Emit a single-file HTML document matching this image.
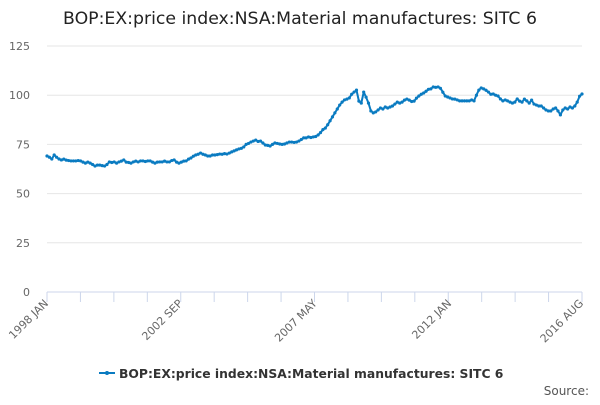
<!DOCTYPE html>
<html><head><meta charset="utf-8"><style>
body{margin:0;background:#fff;font-family:"Liberation Sans","DejaVu Sans",sans-serif;}
svg text{font-family:"DejaVu Sans","Liberation Sans",sans-serif;}
</style></head><body>
<svg id="chart" width="600" height="400" viewBox="0 0 600 400">
<text x="300" y="24" text-anchor="middle" font-size="17.3" fill="#222">BOP:EX:price index:NSA:Material manufactures: SITC 6</text>
<g id="grid"></g><g id="xaxis"></g><g id="series"></g>
<g>
<line x1="99" y1="373" x2="115" y2="373" stroke="#0a7bc1" stroke-width="2"/>
<circle cx="107" cy="373" r="2" fill="#0a7bc1"/>
<text x="119" y="378" font-size="12.35" font-weight="bold" fill="#333">BOP:EX:price index:NSA:Material manufactures: SITC 6</text>
</g>
<text x="589" y="395" text-anchor="end" font-size="12" fill="#555">Source:</text>
</svg>
<script>
const yTicks=[0,25,50,75,100,125];
const xLabels=["1998 JAN","2002 SEP","2007 MAY","2012 JAN","2016 AUG"];
const xLabelMonths=[0,56,112,168,223];
const values=[
69.1,68.5,67.6,69.6,68.5,67.6,67.1,67.5,67.0,66.8,66.6,66.6,
66.6,66.8,66.6,66.0,65.5,66.0,65.5,64.8,64.0,64.5,64.5,64.2,
64.0,64.8,66.1,65.8,66.1,65.5,66.1,66.5,67.1,66.0,65.8,65.5,
66.1,66.5,66.1,66.6,66.6,66.3,66.6,66.6,66.0,65.5,66.0,66.1,
66.1,66.5,66.1,66.1,66.8,67.1,66.0,65.5,66.0,66.5,66.6,67.5,
68.1,69.0,69.6,70.0,70.6,70.0,69.6,69.1,69.1,69.6,69.6,69.8,
70.1,70.0,70.3,70.1,70.6,71.2,71.7,72.2,72.7,73.0,73.7,75.0,
75.5,76.2,76.7,77.2,76.5,76.7,75.7,74.7,74.5,74.2,75.0,75.7,
75.5,75.2,75.0,75.2,75.7,76.2,76.2,76.0,76.2,76.7,77.5,78.3,
78.3,78.8,78.5,78.8,79.0,79.8,81.0,82.5,83.3,85.0,87.0,89.0,
91.0,93.0,95.0,96.5,97.6,98.0,98.6,100.5,101.6,102.6,97.0,96.0,
101.6,99.0,96.0,92.0,91.0,91.5,92.5,93.5,93.0,94.0,93.5,94.0,
94.5,95.5,96.5,96.0,96.5,97.5,98.0,97.5,96.8,97.0,98.5,99.6,
100.5,101.1,102.0,103.0,103.2,104.2,104.0,104.2,103.5,101.5,99.6,99.1,
98.6,98.1,98.0,97.6,97.1,97.1,97.1,97.1,97.1,97.6,97.1,100.0,
102.6,103.7,103.2,102.5,101.6,100.5,100.6,100.0,99.6,98.1,97.1,97.6,
97.1,96.5,96.0,96.5,98.1,97.0,96.5,98.0,97.1,96.0,97.5,95.5,
95.0,94.5,94.5,93.5,92.5,92.0,92.0,93.0,93.5,92.0,90.0,92.5,
93.5,93.0,94.0,93.5,94.5,96.5,99.5,100.6];
const NS="http://www.w3.org/2000/svg";
const X0=47,X1=582,Y0=292,Y1=46;
const xs=m=>X0+(X1-X0)*m/(values.length-1);
const ys=v=>Y0-(Y0-Y1)*v/125;
function mk(t,a,p){const e=document.createElementNS(NS,t);for(const k in a)e.setAttribute(k,a[k]);p.appendChild(e);return e;}
const grid=document.getElementById('grid');
yTicks.forEach(t=>{
 const l=mk('line',{x1:X0,x2:X1,y1:ys(t),y2:ys(t),stroke:t===0?'#ccd6eb':'#e6e6e6','stroke-width':1},grid);
 
 
 const tx=mk('text',{x:X0-17,y:ys(t)+4,'text-anchor':'end','font-size':11,fill:'#666'},grid);
 tx.textContent=t;
 
 
});
const xa=document.getElementById('xaxis');
for(let k=0;k<=16;k++){
 const x=X0+(X1-X0)*k/16;
 const l=mk('line',{x1:x,x2:x,y1:Y0,y2:Y0+10,stroke:'#ccd6eb'},xa);
 
 
}
xLabels.forEach((s,i)=>{
 const x=xs(xLabelMonths[i])+2;
 const t=mk('text',{x:x,y:Y0+12,'text-anchor':'end','font-size':11,fill:'#666',transform:`rotate(-45 ${x} ${Y0+12})`},xa);
 t.textContent=s;
 
 
});
const sg=document.getElementById('series');
const pts=values.map((v,i)=>xs(i).toFixed(1)+','+ys(v).toFixed(1)).join(' ');
const pl=mk('polyline',{points:pts,fill:'none',stroke:'#0a7bc1','stroke-width':2,'stroke-linejoin':'round'},sg);


values.forEach((v,i)=>{
 const c=mk('circle',{cx:xs(i),cy:ys(v),r:1.6,fill:'#0a7bc1'},sg);
 
 
});
</script>
</body></html>
